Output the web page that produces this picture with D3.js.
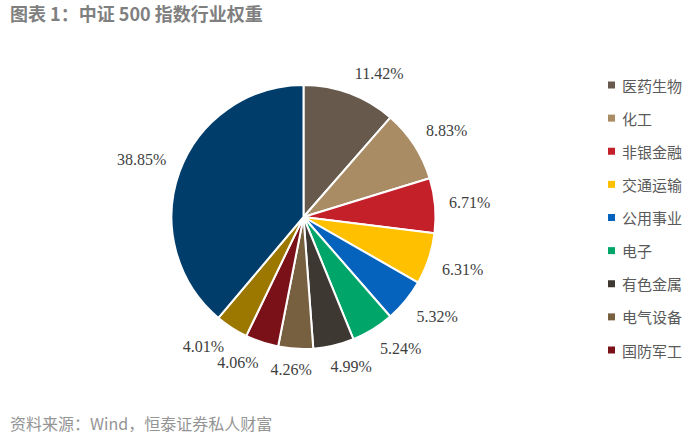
<!DOCTYPE html>
<html><head><meta charset="utf-8">
<script src="https://cdn.jsdelivr.net/npm/d3@7/dist/d3.min.js"></script>
<style>
html,body{margin:0;padding:0;background:#fff;}
svg{display:block;}
</style></head>
<body>
<svg id="chart" width="700" height="445"></svg>
<script>
// ---- data ----
const categories = ["医药生物","化工","非银金融","交通运输","公用事业","电子","有色金属","电气设备","国防军工","其他行业A","其他行业B"];
const values = [11.42, 8.83, 6.71, 6.31, 5.32, 5.24, 4.99, 4.26, 4.06, 4.01, 38.85];
const colors = ["#675A4D","#AA8C64","#C4202A","#FFC000","#0563BE","#00A56A","#3D3832","#76603F","#7B1118","#9C7800","#003D6B"];
const legendItems = ["医药生物","化工","非银金融","交通运输","公用事业","电子","有色金属","电气设备","国防军工"];
const titleText = "图表 1：中证 500 指数行业权重";
const sourceText = "资料来源：Wind，恒泰证券私人财富";

const data = categories.map((c,i)=>({name:c, value:values[i], color:colors[i]}));

const svg = d3.select("#chart");

// title
svg.append("text")
  .attr("x", 10).attr("y", 21)
  .attr("font-family", "'Noto Sans CJK SC', sans-serif")
  .attr("font-size", 18).attr("font-weight", "bold")
  .attr("fill", "#7f7f7f")
  .text(titleText);

// source
svg.append("text")
  .attr("x", 10).attr("y", 430)
  .attr("font-family", "'Noto Sans CJK SC', sans-serif")
  .attr("font-size", 16)
  .attr("fill", "#949494")
  .text(sourceText);

// pie
const cx = 303.5, cy = 217, r = 132;
const pie = d3.pie().value(d=>d.value).sort(null);
const arc = d3.arc().innerRadius(0).outerRadius(r);
const arcs = pie(data);

const g = svg.append("g").attr("transform", `translate(${cx},${cy})`);
g.selectAll("path.slice").data(arcs).enter().append("path")
  .attr("class","slice")
  .attr("d", arc)
  .attr("fill", d=>d.data.color)
  .attr("stroke", "#fff")
  .attr("stroke-width", 2)
  .attr("stroke-linejoin", "round");

// labels: outside end
const d0 = r + 14, lh = 14;
const clamp = v => Math.max(-1, Math.min(1, v));
g.selectAll("text.lbl").data(arcs).enter().append("text")
  .attr("class","lbl")
  .attr("font-family", "'Liberation Serif', 'Times New Roman', serif")
  .attr("font-size", 16)
  .attr("fill", "#404040")
  .attr("text-anchor", "middle")
  .attr("dominant-baseline", "central")
  .text(d=>d.data.value.toFixed(2) + "%")
  .each(function(d){
    const a = (d.startAngle + d.endAngle)/2;
    const s = Math.sin(a), c = Math.cos(a);
    const w = this.getComputedTextLength();
    const fx = clamp(s*3), fy = clamp(-c*3);
    const x = d0*s + fx*w/2;
    const y = -d0*c + fy*lh/2;
    d3.select(this).attr("x", x).attr("y", y);
  });

// legend
const ly = d3.scalePoint().domain(legendItems).range([85, 350]);
const lg = svg.append("g");
const items = lg.selectAll("g").data(legendItems).enter().append("g")
  .attr("transform", d=>`translate(608,${ly(d)})`);
items.append("rect")
  .attr("x", 0).attr("y", -3.5).attr("width", 7).attr("height", 7)
  .attr("fill", d=>colors[categories.indexOf(d)]);
items.append("text")
  .attr("x", 14).attr("y", 0)
  .attr("dominant-baseline", "central")
  .attr("font-family", "'Noto Sans CJK SC', sans-serif")
  .attr("font-size", 15)
  .attr("fill", "#595959")
  .text(d=>d);
</script>
</body></html>
